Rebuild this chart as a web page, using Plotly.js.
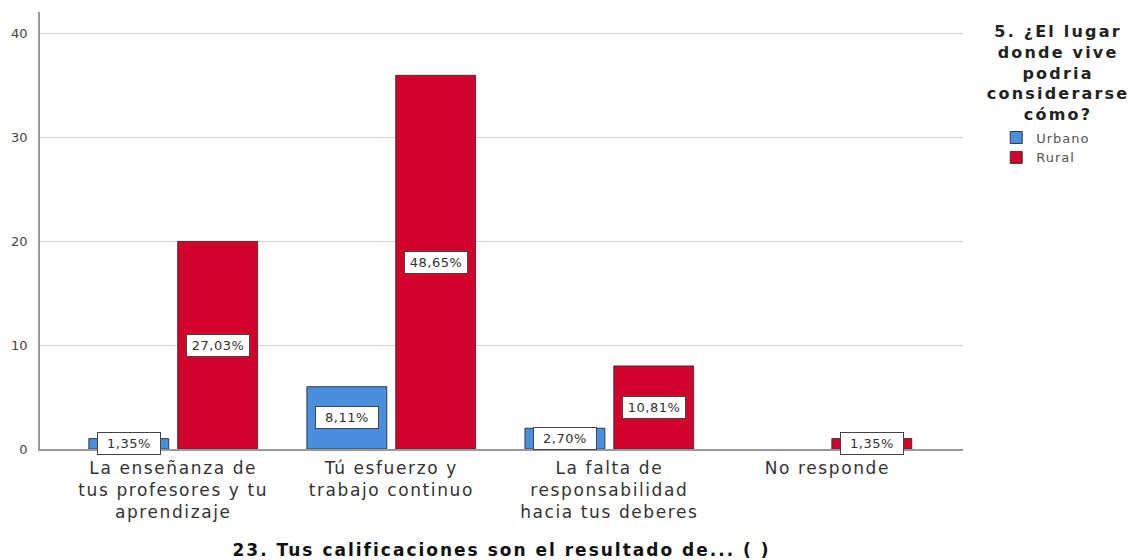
<!DOCTYPE html>
<html>
<head>
<meta charset="utf-8">
<script src="https://cdn.plot.ly/plotly-3.0.1.min.js"></script>
<style>
  html, body { margin: 0; padding: 0; background: #ffffff; }
  #chart { width: 1144px; height: 560px; }
  #chart .xtick text { letter-spacing: 1.6px; }
  #chart text.xtitle { letter-spacing: 2px; }
  #chart .legendtext { letter-spacing: 1px; }
</style>
</head>
<body>
<div id="chart"></div>
<script>
// Categories (x axis)
var categories = [
  "La enseñanza de<br>tus profesores y tu<br>aprendizaje",
  "Tú esfuerzo y<br>trabajo continuo",
  "La falta de<br>responsabilidad<br>hacia tus deberes",
  "No responde"
];
// Series values (counts)
var urbano = [1, 6, 2, 0];
var rural = [20, 36, 8, 1];
var seriesNames = ["Urbano", "Rural"];
var legendTitle = "5. ¿El lugar<br>donde vive<br>podria<br>considerarse<br>cómo?";
var xTitle = "23. Tus calificaciones son el resultado de... ( )";
var yTicks = [0, 10, 20, 30, 40];

var total = urbano.concat(rural).reduce(function (a, b) { return a + b; }, 0);
function pct(v) { return (v / total * 100).toFixed(2).replace(".", ",") + "%"; }

var BARGAP = 0.185;
var GROUPGAP = 0.101;
var colors = ["#4a8fdd", "#d3002b"];

var traces = [urbano, rural].map(function (vals, i) {
  return {
    type: "bar",
    name: seriesNames[i],
    x: categories,
    y: vals,
    marker: {
      color: colors[i],
      line: { color: "#3a3a3a", width: vals.map(function (v) { return v > 0 ? 1 : 0; }) }
    },
    hoverinfo: "x+y+name"
  };
});

// Percent labels centred in each bar
var annotations = [];
var half = (1 - BARGAP) / 4;
[urbano, rural].forEach(function (vals, s) {
  vals.forEach(function (v, c) {
    if (v <= 0) return;
    annotations.push({
      x: c + (s === 0 ? -half : half),
      y: v / 2,
      xref: "x", yref: "y",
      text: pct(v),
      showarrow: false,
      font: { family: "DejaVu Sans", size: 13, color: "#333333" },
      bgcolor: "#ffffff",
      bordercolor: "#444444",
      borderwidth: 1,
      borderpad: 1,
      width: 60,
      height: 19
    });
  });
});
var legendTitleIndex = annotations.length;
annotations.push({
  x: 1.1027, y: 0.982,
  xref: "paper", yref: "paper",
  xanchor: "center", yanchor: "top",
  align: "center",
  text: "<b>" + legendTitle + "</b>",
  showarrow: false,
  font: { family: "DejaVu Sans", size: 16, color: "#222222" }
});

var layout = {
  width: 1144,
  height: 560,
  paper_bgcolor: "#ffffff",
  plot_bgcolor: "#ffffff",
  margin: { l: 40, r: 181, t: 12, b: 111 },
  barmode: "group",
  bargap: BARGAP,
  bargroupgap: GROUPGAP,
  font: { family: "DejaVu Sans", color: "#333333" },
  xaxis: {
    type: "category",
    range: [-0.611, 3.622],
    showgrid: false,
    showline: true,
    linecolor: "#9a9a9a",
    linewidth: 1.5,
    ticks: "",
    ticklabelstandoff: 3,
    tickfont: { family: "DejaVu Sans", size: 17, color: "#333333" },
    title: {
      text: xTitle,
      font: { family: "DejaVu Sans", size: 17, color: "#111111", weight: "bold" },
      standoff: 25
    },
    automargin: false,
    fixedrange: true
  },
  yaxis: {
    range: [0, 42.1],
    tickvals: yTicks,
    showgrid: true,
    gridcolor: "#d4d4d4",
    gridwidth: 1,
    showline: true,
    linecolor: "#9a9a9a",
    linewidth: 1.5,
    ticks: "",
    ticklabelstandoff: 8,
    zeroline: false,
    tickfont: { family: "DejaVu Sans", size: 13, color: "#444444" },
    automargin: false,
    fixedrange: true
  },
  legend: {
    x: 1.036,
    y: 0.747,
    xanchor: "left",
    yanchor: "top",
    bgcolor: "rgba(0,0,0,0)",
    font: { family: "DejaVu Sans", size: 13, color: "#555555" },
    tracegroupgap: 0
  },
  annotations: annotations,
  showlegend: true
};

Plotly.newPlot("chart", traces, layout, { displayModeBar: false }).then(function (gd) {
  var t = gd.querySelector('g.annotation[data-index="' + legendTitleIndex + '"] text');
  if (t) t.style.letterSpacing = "2.2px";
  var pl = gd.querySelectorAll('g.annotation text');
  for (var i = 0; i < legendTitleIndex && i < pl.length; i++) pl[i].style.letterSpacing = "0.5px";
});
</script>
</body>
</html>
